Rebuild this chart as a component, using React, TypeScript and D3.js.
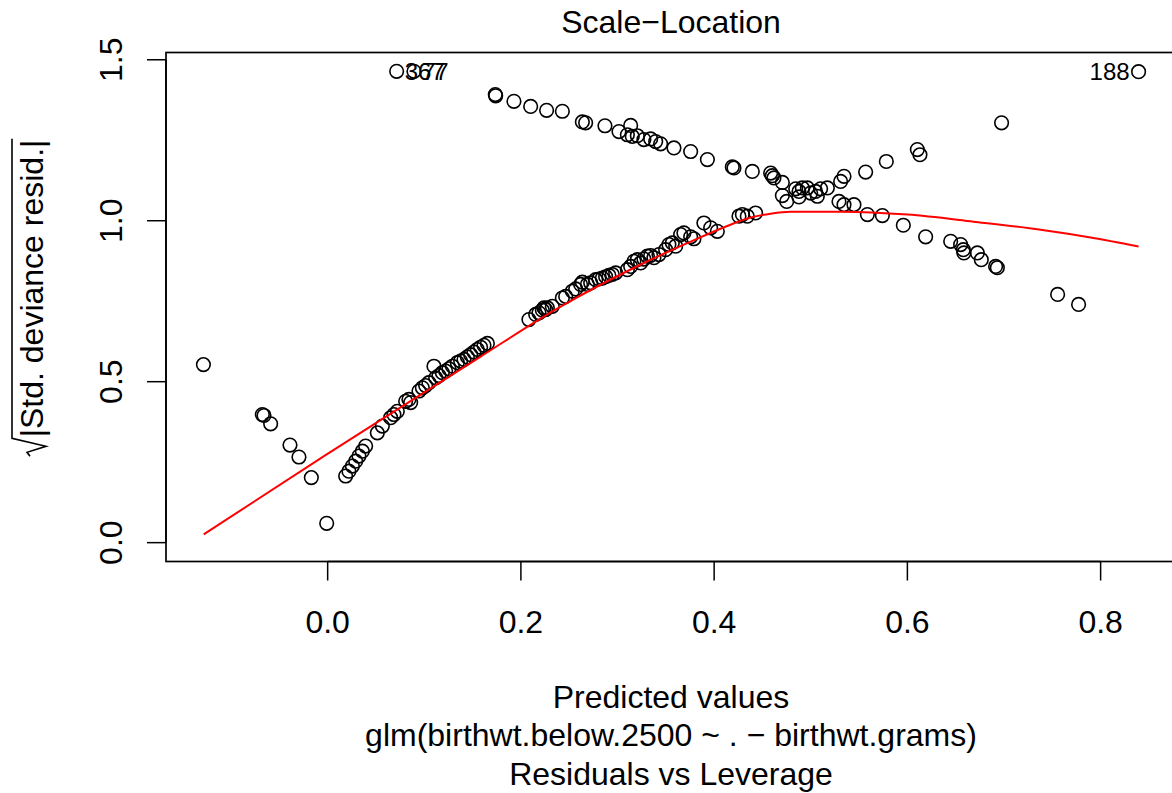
import React, { useLayoutEffect, useRef, useState } from "react";
import * as d3 from "d3";

// Fitted (predicted) values
const fittedX: number[] = [
  // isolated points
  -0.1286, -0.0676, -0.0659, -0.059, -0.039, -0.0297, -0.0169, -0.001, 0.0714, 0.0893, 0.8393, 0.6975,
  // lower ascending band
  0.0186, 0.022, 0.0256, 0.029, 0.0324, 0.0359, 0.0393, 0.0514, 0.0566, 0.0652, 0.0686, 0.0721,
  0.0807, 0.0841, 0.0859, 0.0945, 0.098, 0.1014, 0.1048, 0.11, 0.1118, 0.1152, 0.1187, 0.1221,
  0.1255, 0.1291, 0.1342, 0.1376, 0.1411, 0.1446, 0.148, 0.1514, 0.1549, 0.1583, 0.1618, 0.1653,
  0.2083, 0.2153, 0.2187, 0.2222, 0.2239, 0.2256, 0.2274, 0.2325, 0.2429, 0.2463, 0.2532, 0.2567,
  0.2618, 0.2636, 0.2688, 0.2722, 0.2774, 0.2808, 0.2843, 0.2877, 0.2911, 0.2946, 0.2981, 0.3102,
  0.3136, 0.317, 0.3205, 0.3239, 0.3273, 0.3309, 0.3343, 0.3377, 0.3429, 0.3498, 0.3532, 0.3567,
  0.3602, 0.3653, 0.3687, 0.3757, 0.3791, 0.3894, 0.3964, 0.4033, 0.4257, 0.4292, 0.4343, 0.4429,
  // upper descending band and its tail
  0.1735, 0.1739, 0.1928, 0.2101, 0.2266, 0.2429, 0.2636, 0.267, 0.287, 0.3015, 0.3136, 0.3102,
  0.3153, 0.3205, 0.3273, 0.3343, 0.3395, 0.3446, 0.3584, 0.3757, 0.393, 0.4188, 0.4205, 0.4395,
  0.4585, 0.4602, 0.4619, 0.4706, 0.4706, 0.4751, 0.4844, 0.4878, 0.4913, 0.4878, 0.4965, 0.4999,
  0.505, 0.5068, 0.5102, 0.5172, 0.5292, 0.5344, 0.5447, 0.5309, 0.5344, 0.5568, 0.5782, 0.6103,
  0.613, 0.5586, 0.5741, 0.5958, 0.6189, 0.6448, 0.6551, 0.6579, 0.6585, 0.6724, 0.6765, 0.6913,
  0.6931, 0.7555, 0.7772,
];

// sqrt(|Std. deviance residuals|)
const sqrtAbsResid: number[] = [
  0.553, 0.398, 0.395, 0.369, 0.303, 0.266, 0.202, 0.06, 1.464, 1.464, 1.463, 1.304,
  0.207, 0.222, 0.238, 0.253, 0.269, 0.284, 0.3, 0.341, 0.362, 0.388, 0.398, 0.408,
  0.439, 0.445, 0.435, 0.471, 0.481, 0.488, 0.497, 0.548, 0.512, 0.519, 0.528, 0.533,
  0.54, 0.548, 0.559, 0.564, 0.569, 0.577, 0.584, 0.592, 0.6, 0.607, 0.613, 0.619,
  0.693, 0.709, 0.714, 0.722, 0.729, 0.724, 0.729, 0.734, 0.76, 0.765, 0.781, 0.788,
  0.802, 0.809, 0.802, 0.807, 0.817, 0.819, 0.822, 0.826, 0.83, 0.833, 0.838, 0.848,
  0.858, 0.874, 0.879, 0.869, 0.881, 0.89, 0.892, 0.885, 0.895, 0.91, 0.926, 0.931,
  0.921, 0.957, 0.962, 0.95, 0.944, 0.993, 0.978, 0.967, 1.014, 1.019, 1.014, 1.024,
  1.392, 1.388, 1.371, 1.355, 1.343, 1.34, 1.307, 1.304, 1.295, 1.277, 1.296, 1.267,
  1.262, 1.264, 1.252, 1.254, 1.246, 1.239, 1.226, 1.215, 1.19, 1.167, 1.164, 1.153,
  1.148, 1.14, 1.133, 1.119, 1.078, 1.06, 1.099, 1.091, 1.102, 1.074, 1.102, 1.086,
  1.091, 1.076, 1.099, 1.102, 1.06, 1.05, 1.05, 1.122, 1.138, 1.151, 1.184, 1.221,
  1.205, 1.019, 1.016, 0.986, 0.95, 0.936, 0.926, 0.91, 0.9, 0.9, 0.879, 0.858,
  0.854, 0.771, 0.74,
];

// identified observations
const idLabels: string[] = ["367", "77", "188"];
const idX: number[] = [0.0714, 0.0893, 0.8393];
const idY: number[] = [1.464, 1.464, 1.463];

// lowess smoother (red line)
const smoothX: number[] = [
  -0.1283, -0.001, 0.0755, 0.1583, 0.2411, 0.324, 0.3757, 0.4098, 0.4378, 0.4585, 0.4792,
  0.5309, 0.6003, 0.6686, 0.7379, 0.7896, 0.8393,
];
const smoothY: number[] = [
  0.0258, 0.274, 0.42, 0.578, 0.733, 0.864, 0.935, 0.979, 1.01, 1.022, 1.028,
  1.028, 1.019, 0.997, 0.972, 0.948, 0.92,
];

const xTicks: number[] = [0, 0.2, 0.4, 0.6, 0.8];
const yTicks: number[] = [0, 0.5, 1.0, 1.5];

const titleText = "Scale\u2212Location";
const xLabelLines: string[] = [
  "Predicted values",
  "glm(birthwt.below.2500 ~ . \u2212 birthwt.grams)",
  "Residuals vs Leverage",
];
const yLabelText = "|Std. deviance resid.|";

const FONT = "'Liberation Sans', Arial, Helvetica, sans-serif";

export default function App() {
  const W = 1172;
  const H = 793;
  const left = 166;
  const right = 1176;
  const top = 52.5;
  const bottom = 561.5;

  const xExt = d3.extent(fittedX) as [number, number];
  const xPad = (xExt[1] - xExt[0]) * 0.04;
  const x = d3.scaleLinear().domain([xExt[0] - xPad, xExt[1] + xPad]).range([left, right]);
  const yMax = d3.max(sqrtAbsResid) as number;
  const yPad = yMax * 0.04;
  const y = d3.scaleLinear().domain([0 - yPad, yMax + yPad]).range([bottom, top]);

  const fmt = d3.format(".1f");
  const line = d3
    .line<number>()
    .x((_, i) => x(smoothX[i]))
    .y((d) => y(d))
    .curve(d3.curveMonotoneX);

  const midX = (xExt[0] + xExt[1]) / 2;

  const textRef = useRef<SVGTextElement>(null);
  const [tw, setTw] = useState(300);
  useLayoutEffect(() => {
    if (textRef.current) setTw(textRef.current.getComputedTextLength());
  }, []);
  const rw = 19;
  const total = rw + tw;
  const x0 = -total / 2;

  const tickLen = 19;

  return (
    <svg
      width={W}
      height={H}
      style={{ position: "absolute", left: 0, top: 0, background: "#fff", fontFamily: FONT }}
    >
      <rect x={0} y={0} width={W} height={H} fill="#fff" />
      {/* plot box */}
      <rect x={left} y={top} width={right - left} height={bottom - top} fill="none" stroke="#000" strokeWidth={1.7} />

      {/* x axis */}
      <line x1={x(xTicks[0])} x2={x(xTicks[xTicks.length - 1])} y1={bottom} y2={bottom} stroke="#000" strokeWidth={1.5} />
      {xTicks.map((t) => (
        <g key={"xt" + t}>
          <line x1={x(t)} x2={x(t)} y1={bottom} y2={bottom + tickLen} stroke="#000" strokeWidth={1.5} />
          <text x={x(t)} y={633} fontSize={32} textAnchor="middle">
            {fmt(t)}
          </text>
        </g>
      ))}

      {/* y axis */}
      <line x1={left} x2={left} y1={y(yTicks[0])} y2={y(yTicks[yTicks.length - 1])} stroke="#000" strokeWidth={1.5} />
      {yTicks.map((t) => (
        <g key={"yt" + t}>
          <line x1={left - tickLen} x2={left} y1={y(t)} y2={y(t)} stroke="#000" strokeWidth={1.5} />
          <text transform={`translate(122,${y(t)}) rotate(-90)`} fontSize={32} textAnchor="middle">
            {fmt(t)}
          </text>
        </g>
      ))}

      {/* points */}
      <g>
        {fittedX.map((xv, i) => (
          <circle key={i} cx={x(xv)} cy={y(sqrtAbsResid[i])} r={6.8} fill="none" stroke="#000" strokeWidth={1.6} />
        ))}
      </g>

      {/* lowess line */}
      <path d={line(smoothY) || ""} fill="none" stroke="#ff0000" strokeWidth={2} />

      {/* id labels */}
      {idLabels.map((lab, i) => {
        const isRight = idX[i] < midX;
        return (
          <text
            key={lab}
            x={x(idX[i]) + (isRight ? 8 : -9)}
            y={y(idY[i]) + 8.5}
            fontSize={24}
            textAnchor={isRight ? "start" : "end"}
          >
            {lab}
          </text>
        );
      })}

      {/* title */}
      <text x={(left + right) / 2} y={33} fontSize={32} textAnchor="middle">
        {titleText}
      </text>

      {/* x label lines */}
      {xLabelLines.map((s, i) => (
        <text key={s} x={(left + right) / 2} y={707.5 + i * 38.5} fontSize={32} textAnchor="middle">
          {s}
        </text>
      ))}

      {/* y label: sqrt(|Std. deviance resid.|) */}
      <g transform="translate(43,298) rotate(-90)">
        <path
          d={`M${x0},-13 L${x0 + 4},-16 L${x0 + 10},3 L${x0 + rw - 1},-31 H${x0 + total + 1}`}
          fill="none"
          stroke="#000"
          strokeWidth={1.6}
        />
        <text ref={textRef} x={x0 + rw} y={0} fontSize={32}>
          {yLabelText}
        </text>
      </g>
    </svg>
  );
}
